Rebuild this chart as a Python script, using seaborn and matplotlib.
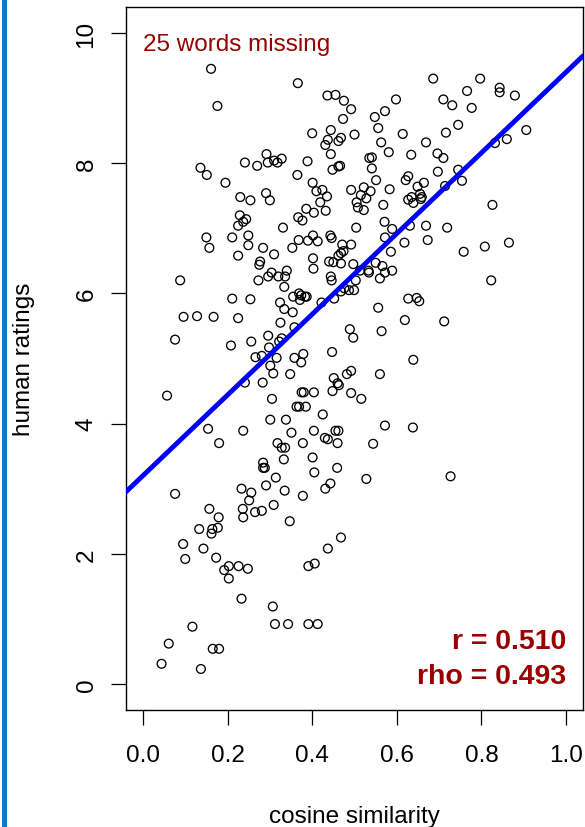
import matplotlib
matplotlib.use("Agg")
import matplotlib.pyplot as plt
import seaborn as sns
import numpy as np
import pandas as pd
from matplotlib.patches import Rectangle

# ---------------- data ----------------
cosine_similarity = [
    0.161, 0.366, 0.176, 0.436, 0.455, 0.475, 0.473, 0.400, 0.444, 0.437, 0.431, 0.462, 0.468, 0.444,
    0.292, 0.295, 0.310, 0.318, 0.328, 0.241, 0.270, 0.389, 0.365, 0.136, 0.151, 0.195, 0.448, 0.462,
    0.466, 0.401, 0.410, 0.424, 0.435, 0.419, 0.291, 0.300, 0.230, 0.254, 0.386, 0.404, 0.432, 0.229,
    0.244, 0.237, 0.225, 0.367, 0.377, 0.331, 0.150, 0.211, 0.249, 0.368, 0.390, 0.402, 0.413, 0.443,
    0.446,
    0.686, 0.797, 0.843, 0.843, 0.879, 0.766, 0.710, 0.731, 0.777, 0.598, 0.572, 0.548, 0.492, 0.556,
    0.500, 0.614, 0.716, 0.745, 0.906, 0.563, 0.669, 0.832, 0.860, 0.581, 0.634, 0.696, 0.710, 0.535,
    0.541, 0.541, 0.551, 0.697, 0.745, 0.754, 0.627, 0.621, 0.664, 0.649, 0.714, 0.583, 0.492, 0.522,
    0.538, 0.515, 0.528, 0.505, 0.508, 0.522, 0.627, 0.635, 0.639, 0.655, 0.659, 0.657, 0.568, 0.826,
    0.571, 0.504, 0.589, 0.631, 0.669, 0.719, 0.572,
    0.618, 0.673, 0.758, 0.808, 0.865, 0.586, 0.497, 0.550, 0.566, 0.533, 0.534, 0.572, 0.589, 0.513,
    0.560, 0.503, 0.499, 0.823, 0.627, 0.647, 0.653, 0.556, 0.619, 0.712, 0.489, 0.497, 0.564, 0.639,
    0.492, 0.560, 0.492, 0.516, 0.572, 0.638, 0.544, 0.528, 0.727,
    0.249, 0.157, 0.284, 0.225, 0.310, 0.353, 0.471, 0.474, 0.468, 0.462, 0.468, 0.492, 0.402, 0.403,
    0.440, 0.450, 0.277, 0.275, 0.304, 0.296, 0.320, 0.336, 0.340, 0.273, 0.088, 0.334, 0.444, 0.446,
    0.468, 0.476, 0.487, 0.452, 0.369, 0.374, 0.383, 0.387, 0.371, 0.355, 0.211, 0.254, 0.324, 0.334,
    0.354, 0.422, 0.096, 0.128, 0.167, 0.225, 0.325, 0.358, 0.076, 0.208, 0.256, 0.296, 0.298, 0.328,
    0.322, 0.266, 0.281, 0.316, 0.358, 0.379, 0.374, 0.447, 0.301, 0.308, 0.348, 0.241, 0.283, 0.057,
    0.305, 0.375, 0.380, 0.404, 0.363, 0.369, 0.385, 0.425, 0.451, 0.460, 0.463, 0.448, 0.482, 0.301,
    0.338, 0.351, 0.404, 0.154, 0.180, 0.237, 0.318, 0.328, 0.336, 0.378, 0.430, 0.437, 0.455, 0.462,
    0.460, 0.333, 0.401, 0.284, 0.284, 0.288, 0.405, 0.459, 0.314,
    0.076, 0.233, 0.256, 0.251, 0.236, 0.237, 0.265, 0.281, 0.291, 0.335, 0.309, 0.347, 0.378, 0.431,
    0.443, 0.468, 0.437, 0.157, 0.179, 0.133, 0.164, 0.162, 0.177, 0.095, 0.143, 0.100, 0.173, 0.192,
    0.203, 0.226, 0.248, 0.203, 0.233, 0.307, 0.391, 0.406, 0.312, 0.343, 0.391, 0.413, 0.117, 0.061,
    0.165, 0.180, 0.044, 0.137,
]
human_ratings = [
    9.45, 9.23, 8.88, 9.04, 9.05, 8.96, 8.68, 8.46, 8.51, 8.36, 8.28, 8.34, 8.39, 8.14,
    8.14, 8.01, 8.04, 8.01, 8.07, 8.01, 7.96, 8.03, 7.82, 7.93, 7.82, 7.70, 7.90, 7.95,
    7.96, 7.70, 7.57, 7.59, 7.49, 7.40, 7.54, 7.43, 7.48, 7.43, 7.30, 7.24, 7.27, 7.20,
    7.14, 7.10, 7.04, 7.17, 7.12, 7.01, 6.86, 6.86, 6.89, 6.82, 6.81, 6.89, 6.80, 6.89,
    6.85,
    9.30, 9.30, 9.16, 9.09, 9.04, 9.11, 8.98, 8.89, 8.85, 8.98, 8.80, 8.71, 8.83, 8.54,
    8.44, 8.45, 8.47, 8.59, 8.51, 8.32, 8.32, 8.31, 8.37, 8.17, 8.13, 8.15, 8.08, 8.08,
    8.09, 7.92, 7.74, 7.87, 7.90, 7.73, 7.80, 7.74, 7.70, 7.64, 7.65, 7.60, 7.59, 7.63,
    7.57, 7.51, 7.46, 7.40, 7.32, 7.28, 7.44, 7.48, 7.39, 7.53, 7.48, 7.45, 7.36, 7.36,
    7.10, 7.01, 6.99, 7.04, 7.04, 7.01, 6.86,
    6.78, 6.82, 6.64, 6.72, 6.78, 6.64, 6.45, 6.47, 6.42, 6.35, 6.32, 6.32, 6.35, 6.35,
    6.23, 6.20, 6.05, 6.20, 5.92, 5.93, 5.88, 5.78, 5.59, 5.57, 5.45, 5.32, 5.42, 4.98,
    4.81, 4.76, 4.47, 4.38, 3.97, 3.94, 3.69, 3.15, 3.19,
    6.74, 6.70, 6.70, 6.58, 6.60, 6.70, 6.75, 6.65, 6.62, 6.58, 6.46, 6.75, 6.54, 6.38,
    6.49, 6.48, 6.49, 6.44, 6.32, 6.26, 6.26, 6.26, 6.35, 6.20, 6.20, 6.10, 6.26, 6.20,
    6.03, 6.08, 6.05, 5.92, 6.00, 5.97, 5.95, 5.95, 5.90, 5.95, 5.92, 5.91, 5.86, 5.76,
    5.71, 5.86, 5.64, 5.65, 5.64, 5.62, 5.55, 5.48, 5.29, 5.20, 5.26, 5.35, 5.17, 5.31,
    5.26, 5.02, 5.04, 5.01, 5.01, 5.07, 4.94, 5.10, 4.89, 4.77, 4.76, 4.63, 4.63, 4.43,
    4.38, 4.48, 4.48, 4.48, 4.26, 4.26, 4.26, 4.14, 4.70, 4.62, 4.59, 4.50, 4.76, 4.06,
    4.06, 3.86, 3.89, 3.92, 3.70, 3.89, 3.70, 3.63, 3.63, 3.70, 3.78, 3.76, 3.89, 3.89,
    3.70, 3.45, 3.48, 3.40, 3.32, 3.32, 3.25, 3.32, 3.17,
    2.92, 3.00, 2.94, 2.82, 2.69, 2.56, 2.64, 2.66, 3.05, 2.97, 2.75, 2.50, 2.89, 3.00,
    3.08, 2.25, 2.08, 2.69, 2.56, 2.38, 2.38, 2.31, 2.40, 2.15, 2.08, 1.92, 1.94, 1.75,
    1.81, 1.81, 1.77, 1.62, 1.31, 1.19, 1.81, 1.85, 0.92, 0.92, 0.92, 0.92, 0.88, 0.62,
    0.54, 0.54, 0.31, 0.23,
]

fit_intercept = 3.20
fit_slope = 6.20

x_ticks = [0.0, 0.2, 0.4, 0.6, 0.8, 1.0]
x_tick_labels = ["0.0", "0.2", "0.4", "0.6", "0.8", "1.0"]
y_ticks = [0, 2, 4, 6, 8, 10]
y_tick_labels = ["0", "2", "4", "6", "8", "10"]

missing_text = "25 words missing"
r_text = "r = 0.510"
rho_text = "rho = 0.493"

df = pd.DataFrame({"cosine similarity": cosine_similarity,
                   "human ratings": human_ratings})

# ---------------- style ----------------
sns.set_style("white")
plt.rcParams["font.family"] = ["Liberation Sans", "DejaVu Sans"]

fig = plt.figure(figsize=(5.85, 8.28), dpi=100)
ax = fig.add_axes([126 / 585, 1 - 711 / 828, (583 - 126) / 585, (711 - 8) / 828])

sns.scatterplot(data=df, x="cosine similarity", y="human ratings", ax=ax,
                s=40, facecolors="none", edgecolor="black", linewidth=0.95,
                zorder=3)

ax.axline((0, fit_intercept), slope=fit_slope, color="#0000FF", lw=3.5, zorder=4)

ax.set_xlim(-0.04, 1.04)
ax.set_ylim(-0.4, 10.4)
ax.set_xticks(x_ticks)
ax.set_xticklabels(x_tick_labels)
ax.set_yticks(y_ticks)
ax.set_yticklabels(y_tick_labels, rotation=90, va="center")

for sp in ax.spines.values():
    sp.set_visible(True)
    sp.set_color("black")
    sp.set_linewidth(1.0)

ax.tick_params(axis="both", which="major", direction="out", length=10.5, width=0.9,
               color="black", labelsize=17.5, labelcolor="black")
ax.tick_params(axis="x", pad=14, bottom=True, top=False)
ax.tick_params(axis="y", pad=10, left=True, right=False)

ax.set_xlabel("cosine similarity", fontsize=17.5, color="black")
ax.xaxis.set_label_coords(0.5, -0.159)
ax.xaxis.label.set_va("baseline")
ax.set_ylabel("human ratings", fontsize=17.5, color="black")
ax.yaxis.set_label_coords(-0.2234, 0.5)
ax.yaxis.label.set_va("center")

dark_red = "#990000"
ax.text(0.0, 9.745, missing_text, color=dark_red, fontsize=17.5,
        ha="left", va="baseline")
ax.text(1.0, 0.549, r_text, color=dark_red, fontsize=20.5, fontweight="bold",
        ha="right", va="baseline")
ax.text(1.0, 0.015, rho_text, color=dark_red, fontsize=20.5, fontweight="bold",
        ha="right", va="baseline")

# blue bar at the left edge of the picture
fig.patches.append(Rectangle((2 / 585, 0), 5 / 585, 1, transform=fig.transFigure,
                             facecolor="#1878BE", edgecolor="none"))

fig.savefig("out.png", dpi=100)
